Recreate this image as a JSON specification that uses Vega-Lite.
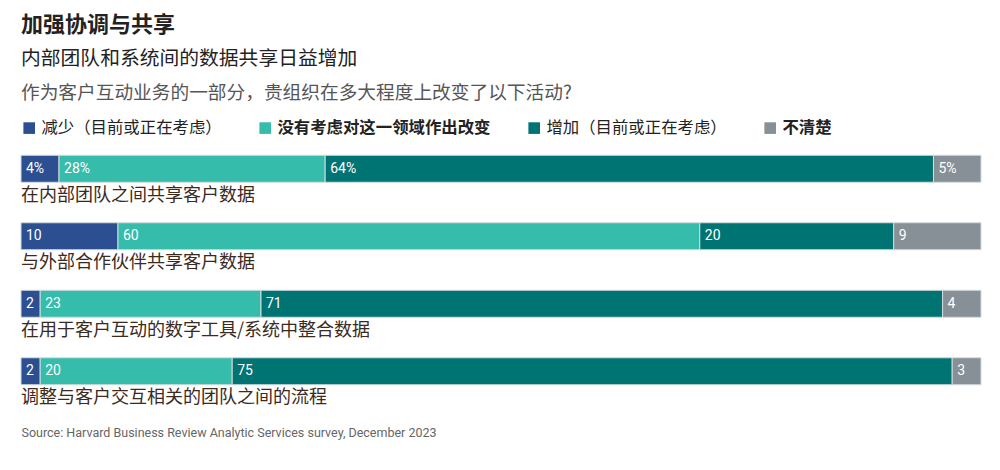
{
  "$schema": "https://vega.github.io/schema/vega-lite/v6.json",
  "width": 960,
  "height": 270,
  "padding": {"left": 20, "right": 20, "top": 14, "bottom": 10},
  "background": "white",
  "title": {
    "text": "加强协调与共享",
    "subtitle": "内部团队和系统间的数据共享日益增加",
    "anchor": "start",
    "frame": "group",
    "font": "Noto Sans CJK SC",
    "fontSize": 22,
    "fontWeight": "bold",
    "color": "#222222",
    "subtitleFont": "Noto Sans CJK SC",
    "subtitleFontSize": 19.8,
    "subtitleColor": "#222222",
    "subtitlePadding": 12,
    "offset": 14
  },
  "config": {"view": {"stroke": null}},
  "data": {
    "values": [
      {"item": "在内部团队之间共享客户数据", "response": "减少（目前或正在考虑）", "order": 1, "value": 4, "label": "4%"},
      {"item": "在内部团队之间共享客户数据", "response": "没有考虑对这一领域作出改变", "order": 2, "value": 28, "label": "28%"},
      {"item": "在内部团队之间共享客户数据", "response": "增加（目前或正在考虑）", "order": 3, "value": 64, "label": "64%"},
      {"item": "在内部团队之间共享客户数据", "response": "不清楚", "order": 4, "value": 5, "label": "5%"},
      {"item": "与外部合作伙伴共享客户数据", "response": "减少（目前或正在考虑）", "order": 1, "value": 10, "label": "10"},
      {"item": "与外部合作伙伴共享客户数据", "response": "没有考虑对这一领域作出改变", "order": 2, "value": 60, "label": "60"},
      {"item": "与外部合作伙伴共享客户数据", "response": "增加（目前或正在考虑）", "order": 3, "value": 20, "label": "20"},
      {"item": "与外部合作伙伴共享客户数据", "response": "不清楚", "order": 4, "value": 9, "label": "9"},
      {"item": "在用于客户互动的数字工具/系统中整合数据", "response": "减少（目前或正在考虑）", "order": 1, "value": 2, "label": "2"},
      {"item": "在用于客户互动的数字工具/系统中整合数据", "response": "没有考虑对这一领域作出改变", "order": 2, "value": 23, "label": "23"},
      {"item": "在用于客户互动的数字工具/系统中整合数据", "response": "增加（目前或正在考虑）", "order": 3, "value": 71, "label": "71"},
      {"item": "在用于客户互动的数字工具/系统中整合数据", "response": "不清楚", "order": 4, "value": 4, "label": "4"},
      {"item": "调整与客户交互相关的团队之间的流程", "response": "减少（目前或正在考虑）", "order": 1, "value": 2, "label": "2"},
      {"item": "调整与客户交互相关的团队之间的流程", "response": "没有考虑对这一领域作出改变", "order": 2, "value": 20, "label": "20"},
      {"item": "调整与客户交互相关的团队之间的流程", "response": "增加（目前或正在考虑）", "order": 3, "value": 75, "label": "75"},
      {"item": "调整与客户交互相关的团队之间的流程", "response": "不清楚", "order": 4, "value": 3, "label": "3"}
    ]
  },
  "transform": [
    {"stack": "value", "groupby": ["item"], "sort": [{"field": "order", "order": "ascending"}], "offset": "normalize", "as": ["x0", "x1"]}
  ],
  "encoding": {
    "y": {"field": "item", "type": "nominal", "sort": null, "axis": null, "scale": {"paddingInner": 0, "paddingOuter": 0}}
  },
  "layer": [
    {
      "mark": {"type": "bar", "size": 27, "stroke": "#d3dbde", "strokeWidth": 1},
      "encoding": {
        "x": {
          "field": "x0", "type": "quantitative", "scale": {"domain": [0, 1], "nice": false},
          "axis": {
            "title": "Source: Harvard Business Review Analytic Services survey, December 2023",
            "labels": false, "ticks": false, "domain": false, "grid": false,
            "titleAnchor": "start", "titleAlign": "left", "titleFont": "Roboto",
            "titleFontSize": 12.5, "titleFontWeight": "normal", "titleColor": "#666666", "titlePadding": 21
          }
        },
        "x2": {"field": "x1"},
        "color": {
          "field": "response", "type": "nominal",
          "scale": {
            "domain": ["减少（目前或正在考虑）", "没有考虑对这一领域作出改变", "增加（目前或正在考虑）", "不清楚"],
            "range": ["#2b4f91", "#35bcab", "#007373", "#878f97"]
          },
          "legend": {
            "orient": "top",
            "direction": "horizontal",
            "title": "作为客户互动业务的一部分，贵组织在多大程度上改变了以下活动?",
            "titleFont": "Noto Sans CJK SC",
            "titleFontSize": 18.7,
            "titleFontWeight": "normal",
            "titleColor": "#555555",
            "titleLimit": 1000,
            "titlePadding": 17,
            "symbolType": "square",
            "symbolSize": 135,
            "symbolStrokeWidth": 0,
            "labelFont": "Noto Sans CJK SC",
            "labelFontSize": 16.4,
            "labelColor": "#222222",
            "labelFontWeight": {"expr": "datum.label == '没有考虑对这一领域作出改变' || datum.label == '不清楚' ? 'bold' : 'normal'"},
            "labelLimit": 400,
            "labelOffset": 4,
            "columnPadding": 35,
            "offset": -2
          }
        }
      }
    },
    {
      "mark": {"type": "text", "align": "left", "baseline": "middle", "dx": 5, "color": "white", "font": "Roboto", "fontSize": 14},
      "encoding": {
        "x": {"field": "x0", "type": "quantitative"},
        "text": {"field": "label"}
      }
    },
    {
      "transform": [{"filter": "datum.order == 1"}],
      "mark": {"type": "text", "align": "left", "baseline": "middle", "dy": 27, "color": "#3b2a1e", "font": "Noto Sans CJK SC", "fontSize": 18},
      "encoding": {
        "x": {"datum": 0, "type": "quantitative"},
        "text": {"field": "item"}
      }
    }
  ]
}
